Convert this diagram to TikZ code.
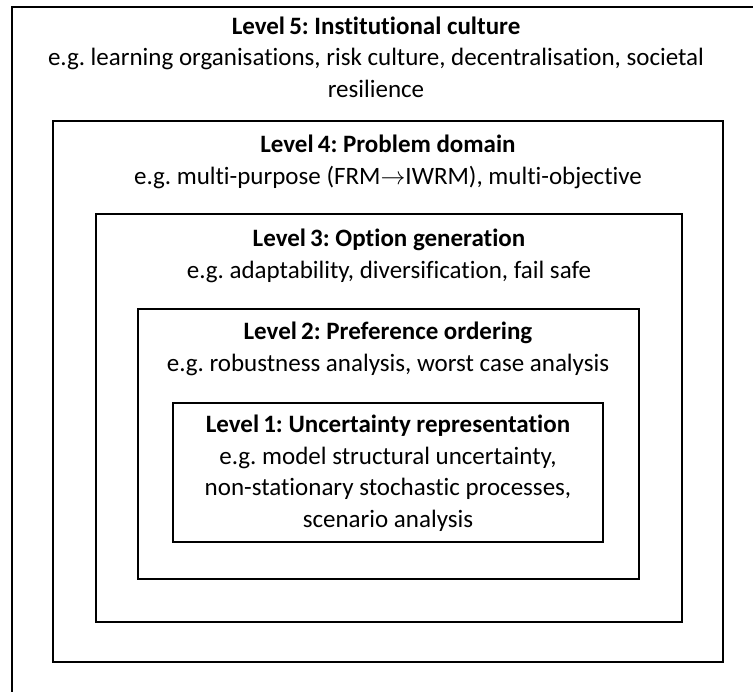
\documentclass[tikz,border=0pt]{standalone}
\usepackage{fontspec}
\setmainfont{Carlito}[RawFeature={-liga;-clig;-calt;-dlig}]
\frenchspacing
\begin{document}
\begin{tikzpicture}[x=1pt,y=-1pt]
    \tikzstyle{every node}+=[inner sep=0pt, align=center, font=\fontsize{25}{31.5}\selectfont]
    \useasboundingbox (0,0) rectangle (753,692);
    \draw [black, line width=1.5pt] (12,692) -- (12,7) -- (753,7);
    \draw [black, line width=1.5pt] (53,121) rectangle (723,662);
    \draw [black, line width=1.5pt] (96,214) rectangle (682,622);
    \draw [black, line width=1.5pt] (138,309) rectangle (639,579);
    \draw [black, line width=1.5pt] (173,403) rectangle (603,542);
    \node (l5) at (376,57) {\textbf{Level\,5: Institutional culture}\\e.g. learning organisations, risk culture, decentralisation, societal\\resilience};
    \node (l4) at (388,162) {\textbf{Level\,4: Problem domain}\\e.g. multi-purpose (FRM$\rightarrow$IWRM), multi-objective};
    \node (l3) at (389,256) {\textbf{Level\,3: Option generation}\\e.g. adaptability, diversification, fail safe};
    \node (l2) at (388,349) {\textbf{Level\,2: Preference ordering}\\e.g. robustness analysis, worst case analysis};
    \node (l1) at (388,473) {\textbf{Level\,1: Uncertainty representation}\\e.g. model structural uncertainty,\\non-stationary stochastic processes,\\scenario analysis};
\end{tikzpicture}
\end{document}
